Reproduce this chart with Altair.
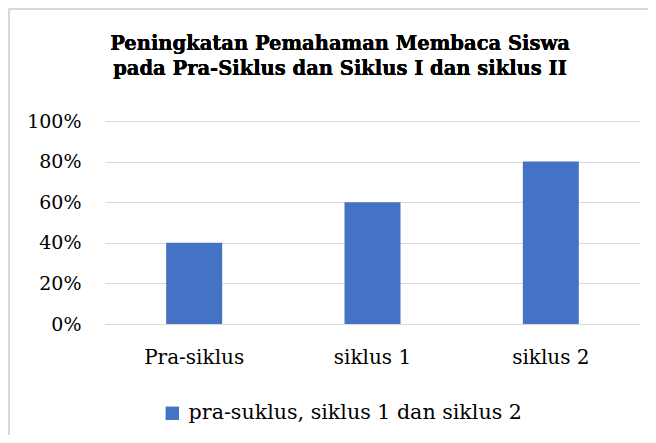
import altair as alt
import pandas as pd

categories = ["Pra-siklus", "siklus 1", "siklus 2"]
values = [0.40, 0.60, 0.80]
series_name = "pra-suklus, siklus 1 dan siklus 2"
y_ticks = [0, 0.2, 0.4, 0.6, 0.8, 1.0]
title_line1 = "Peningkatan Pemahaman Membaca Siswa"
title_line2 = "pada Pra-Siklus dan Siklus I dan siklus II"

df = pd.DataFrame({"kategori": categories, "nilai": values,
                   "seri": [series_name] * len(categories)})

FONT = "DejaVu Serif"
BLUE = "#4472C4"
GRID = "#d9d9d9"

bars = alt.Chart(df).mark_bar(size=56).encode(
    x=alt.X("kategori:N", sort=categories,
            scale=alt.Scale(paddingInner=0, paddingOuter=0),
            axis=alt.Axis(title=None, labelAngle=0, ticks=False,
                          domain=True, domainColor=GRID, domainWidth=1,
                          labelFont=FONT, labelFontSize=20, labelColor="#000000",
                          labelBaseline="alphabetic", labelPadding=39)),
    y=alt.Y("nilai:Q", scale=alt.Scale(domain=[0, 1], nice=False),
            axis=alt.Axis(title=None, values=y_ticks, format=".0%",
                          ticks=False, domain=False, grid=True,
                          gridColor=GRID, gridWidth=1,
                          labelFont=FONT, labelFontSize=19, labelColor="#000000",
                          labelPadding=24)),
    color=alt.Color("seri:N", scale=alt.Scale(range=[BLUE]),
                    legend=alt.Legend(title=None, orient="none",
                                      legendX=57, legendY=282,
                                      symbolType="square", symbolSize=180,
                                      symbolStrokeWidth=0,
                                      labelFont=FONT, labelFontSize=20.6,
                                      labelColor="#000000", labelLimit=500,
                                      labelOffset=6)),
)

border = alt.Chart(df).mark_rect(fill=None, stroke=GRID, strokeWidth=1.5).encode(
    x=alt.value(-96), x2=alt.value(560), y=alt.value(-112), y2=alt.value(420)
)

title1 = alt.Chart(df).mark_text(
    text=title_line1, font=FONT, fontSize=19.5, fontWeight="bold",
    color="#000000", align="center", baseline="alphabetic"
).encode(x=alt.value(235), y=alt.value(-71))

title2 = alt.Chart(df).mark_text(
    text=title_line2, font=FONT, fontSize=19.5, fontWeight="bold",
    color="#000000", align="center", baseline="alphabetic"
).encode(x=alt.value(235), y=alt.value(-46))

chart = alt.layer(border, title1, title2, bars).properties(
    width=535, height=203,
    padding={"left": 97, "top": 113, "right": 8, "bottom": 111},
    autosize=alt.AutoSizeParams(type="none"),
).configure_view(stroke=None)

chart.save("out.html", embed_options={"renderer": "svg", "actions": False})
